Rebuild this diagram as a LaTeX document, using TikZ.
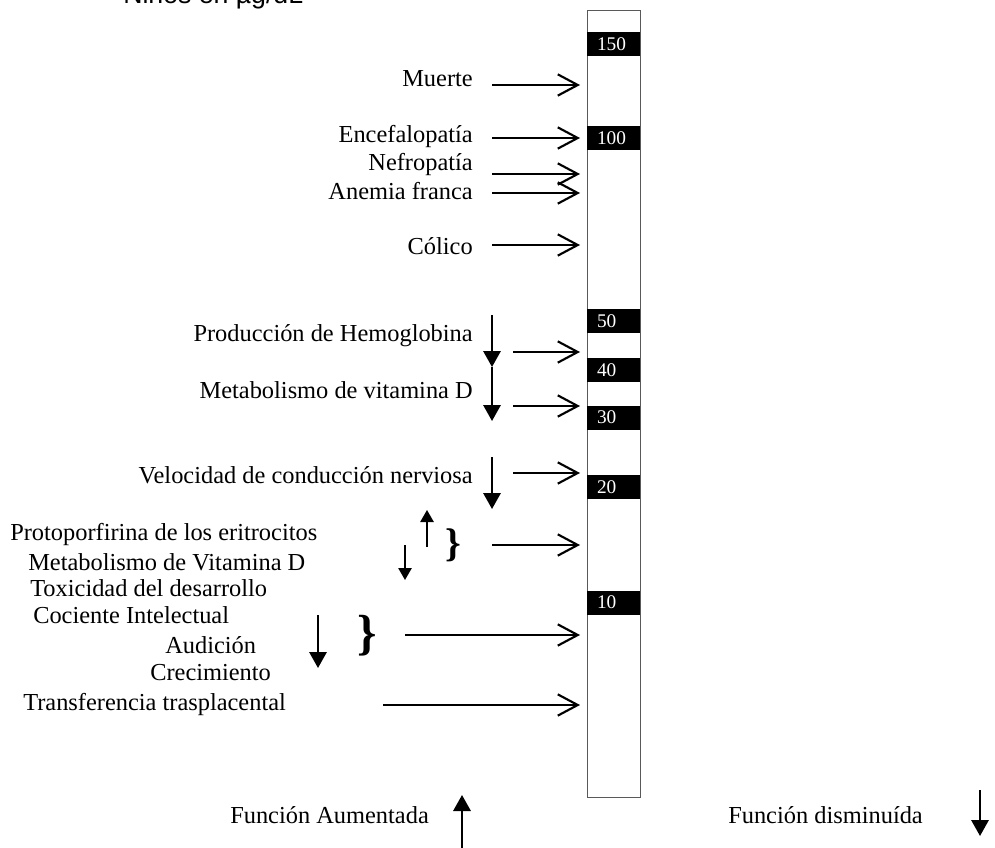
\documentclass[tikz,border=0pt]{standalone}
\usepackage{fontspec}
\setmainfont{Liberation Serif}
\newfontfamily\arialfam{Liberation Sans}
\usetikzlibrary{arrows.meta}
\tikzset{opn/.style = {-{Straight Barb[length=15pt,width=16pt]}, line width=1.6pt}}
\tikzset{dwn/.style = {-{Triangle[length=12pt,width=13pt]}, line width=1.6pt}}
\tikzset{sml/.style = {-{Triangle[length=9pt,width=10pt]}, line width=1.3pt}}
\tikzset{band/.style = {fill=black, text=white, minimum width=39.75pt,
                        minimum height=18pt, inner xsep=7.5pt, text width=24.75pt,
                        align=left, font=\fontsize{14.5}{16}\selectfont}}
\tikzset{lbl/.style = {inner sep=0, font=\fontsize{18.3}{22}\selectfont}}
\tikzset{brc/.style = {inner sep=0, font=\fontsize{30}{30}\selectfont\bfseries}}

\begin{document}
\begin{tikzpicture}[x=0.75pt, y=-0.75pt]
  \useasboundingbox (0,0) rectangle (995,848);
  \clip (0,0) rectangle (995,848);
  % title, cut off at the top
  \node[anchor=base west, inner sep=0, font=\arialfam\fontsize{20}{24}\selectfont]
    (ttl) at (123,4) {Niños en µg/dL};
  % the scale
  \node[draw=gray!70!black, line width=1pt, minimum width=39.75pt,
        minimum height=590.25pt, inner sep=0, anchor=north west]
    (col) at (587,10) {};
  \foreach \v/\y in {150/44.5, 100/138.5, 50/321.5, 40/370, 30/417.5, 20/487, 10/602.5}
    \node[band] (b\v) at (613.5,\y) {\v};
  % effects
  \node[lbl, anchor=base east] (mu) at (473,87) {Muerte};
  \node[lbl, anchor=base east] (en) at (473,143) {Encefalopatía};
  \node[lbl, anchor=base east] (ne) at (473,171) {Nefropatía};
  \node[lbl, anchor=base east] (an) at (473,200) {Anemia franca};
  \node[lbl, anchor=base east] (co) at (473,255) {Cólico};
  \node[lbl, anchor=base east] (he) at (473,341) {Producción de Hemoglobina};
  \node[lbl, anchor=base east] (vd) at (473,398) {Metabolismo de vitamina D};
  \node[lbl, anchor=base east] (ve) at (473,483) {Velocidad de conducción nerviosa};
  \node[lbl, anchor=base west] (pr) at (10,540) {Protoporfirina de los eritrocitos};
  \node[lbl, anchor=base west] (mt) at (28,570) {Metabolismo de Vitamina D};
  \node[lbl, anchor=base west] (tx) at (30,596) {Toxicidad del desarrollo};
  \node[lbl, anchor=base west] (ci) at (33,623) {Cociente Intelectual};
  \node[lbl, anchor=base west] (au) at (165,653) {Audición};
  \node[lbl, anchor=base west] (cr) at (150,680) {Crecimiento};
  \node[lbl, anchor=base west] (tr) at (23,710) {Transferencia trasplacental};
  % arrows to the scale
  \foreach \n/\x/\y in {mu/492/85, en/492/138, ne/492/174, an/492/193, co/492/245,
                        he/513/352, vd/513/406, ve/513/473, pr/492/545,
                        ci/405/635, tr/383/705}{
    \coordinate (s\n) at (\x,\y);
    \draw[opn] (s\n) -- ([xshift=-5.25pt]s\n -| col.west);
  }
  % up and down marks
  \draw[dwn] (492,315) -- (492,367);
  \draw[dwn] (492,367) -- (492,421);
  \draw[dwn] (492,457) -- (492,509);
  \draw[sml] (427,547) -- (427,510);
  \draw[sml] (405,545) -- (405,580);
  \draw[dwn] (318,615) -- (318,668);
  \node[brc] (br1) at (453,545) {\}};
  \node[brc, font=\fontsize{37}{37}\selectfont\bfseries] (br2) at (367,636) {\}};
  % key
  \node[lbl, anchor=base west] (fa) at (230,823) {Función Aumentada};
  \draw[dwn] (462,850) -- (462,795);
  \node[lbl, anchor=base west] (fd) at (728,823) {Función disminuída};
  \draw[dwn] (980,790) -- (980,836);
\end{tikzpicture}
\end{document}
